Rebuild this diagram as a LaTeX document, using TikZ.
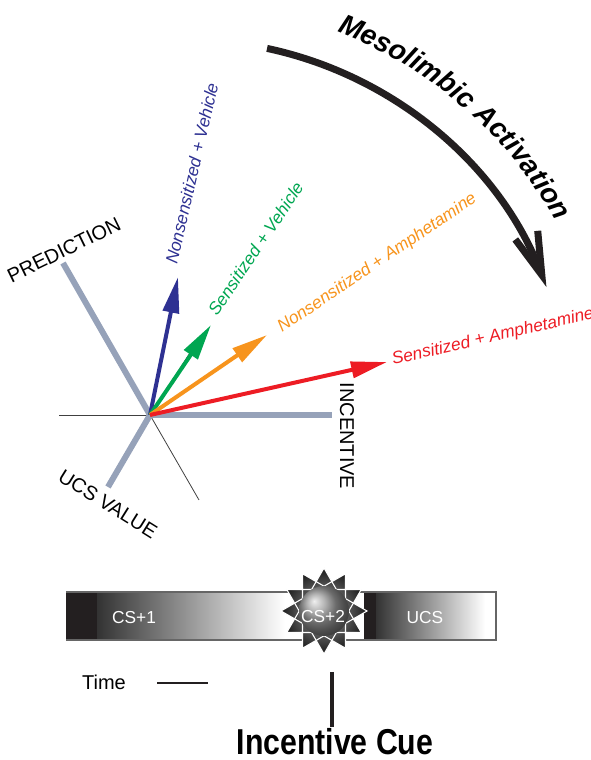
\documentclass[tikz,border=0pt]{standalone}
\usepackage{fontspec}
\setmainfont{Liberation Sans}
\usetikzlibrary{arrows.meta,decorations.text}

\definecolor{axisgray}{RGB}{150,162,185}
\definecolor{nvblue}{RGB}{46,49,146}
\definecolor{svgreen}{RGB}{0,166,81}
\definecolor{naorange}{RGB}{247,148,29}
\definecolor{sared}{RGB}{237,28,36}
\definecolor{cueblack}{RGB}{35,31,32}

\begin{document}
\begin{tikzpicture}[x=0.75pt,y=0.75pt,
  axis/.style={axisgray, line width=4.5pt},
  guide/.style={black!75, line width=0.6pt},
  vec/.style={line width=3pt, -{Triangle[length=27pt,width=12pt]}},
  veclabel/.style={anchor=base west, inner sep=0pt, font=\fontsize{13}{15}\selectfont\itshape},
  axislabel/.style={inner sep=0pt, font=\fontsize{15}{18}\selectfont},
  barlabel/.style={text=white, font=\fontsize{13}{15}\selectfont}]
\useasboundingbox (0,0) rectangle (590,760);

\coordinate (O) at (150,345);
\coordinate (predEnd) at (63,497);
\coordinate (incEnd) at (332,345);
\coordinate (ucsEnd) at (108,273);
\coordinate (west) at (59,345);
\coordinate (southeast) at (199,260);
\coordinate (behind) at (195,415);

\draw[guide] (west) -- (O);
\draw[guide] (O) -- (southeast);
\draw[guide] (O) -- (behind);
\draw[axis] (predEnd) -- (O);
\draw[axis] (O) -- (incEnd);
\draw[axis] (O) -- (ucsEnd);

\coordinate (nvTip) at (178,483);
\coordinate (svTip) at (211,435);
\coordinate (naTip) at (267,425);
\coordinate (saTip) at (387,398);

\draw[vec, nvblue] (O) -- (nvTip);
\draw[vec, svgreen] (O) -- (svTip);
\draw[vec, naorange] (O) -- (naTip);
\draw[vec, sared] (O) -- (saTip);

\node[veclabel, nvblue, rotate=77] (nvLabel) at (177,495) {Nonsensitized + Vehicle};
\node[veclabel, svgreen, rotate=56] (svLabel) at (217,443) {Sensitized + Vehicle};
\node[veclabel, naorange, rotate=34] (naLabel) at (282,427) {Nonsensitized + Amphetamine};
\node[veclabel, sared, rotate=13] (saLabel) at (393,395) {Sensitized + Amphetamine};

\node[axislabel, anchor=base, rotate=26] (predLabel) at (67,504) {PREDICTION};
\node[axislabel, rotate=-32] (ucsLabel) at (108,256) {UCS VALUE};
\node[axislabel, rotate=-90] (incLabel) at (347,324) {INCENTIVE};

\coordinate (C) at (187,335);
\draw[cueblack, line width=5.25pt, -{Straight Barb[length=32pt,width=18pt]}] (C) ++(78:385) arc[start angle=78, end angle=21, radius=385];
\path[decorate, decoration={text along path, text align=center,
  text={|\fontsize{21}{22}\selectfont\bfseries\itshape|Mesolimbic Activation}}]
  (C) ++(71:421) arc[start angle=71, end angle=27, radius=421];

\fill[cueblack] (66,120) rectangle (97,168);
\shade[left color=black!80, right color=white] (97,120) rectangle (285,168);
\fill[cueblack] (364,120) rectangle (376,168);
\shade[left color=black!80, right color=white] (376,120) rectangle (485,168);
\draw[black!60, line width=1pt] (66,168) -- (496,168) -- (496,120) -- (66,120);

\begin{scope}[shift={(324,149)}]
\shade[inner color=black!35, outer color=black!90] foreach \a in {90,120,150,180} {(\a:43) -- (\a+120:43) -- (\a+240:43) -- cycle};
\draw[white, line width=0.8pt] foreach \a in {90,120,150,180} {(\a:43) -- (\a+120:43) -- (\a+240:43) -- cycle};
\shade[ball color=black!40] (0,0) circle (25);
\end{scope}

\node[barlabel] (cs1) at (134,142) {CS+1};
\node[barlabel] (cs2) at (323,143) {CS+2};
\node[barlabel] (ucs) at (425,142) {UCS};

\node[axislabel] (time) at (104,78) {Time};
\coordinate (timeA) at (157,77);
\coordinate (timeB) at (208,77);
\draw[cueblack, line width=1.5pt] (timeA) -- (timeB);

\coordinate (cueTop) at (332,88);
\coordinate (cueBot) at (332,33);
\draw[cueblack, line width=3pt] (cueTop) -- (cueBot);
\node[anchor=base, inner sep=0pt, font=\fontsize{27}{30}\selectfont\bfseries] (cue) at (335,6) {\scalebox{0.84}[1]{Incentive Cue}};
\end{tikzpicture}
\end{document}
